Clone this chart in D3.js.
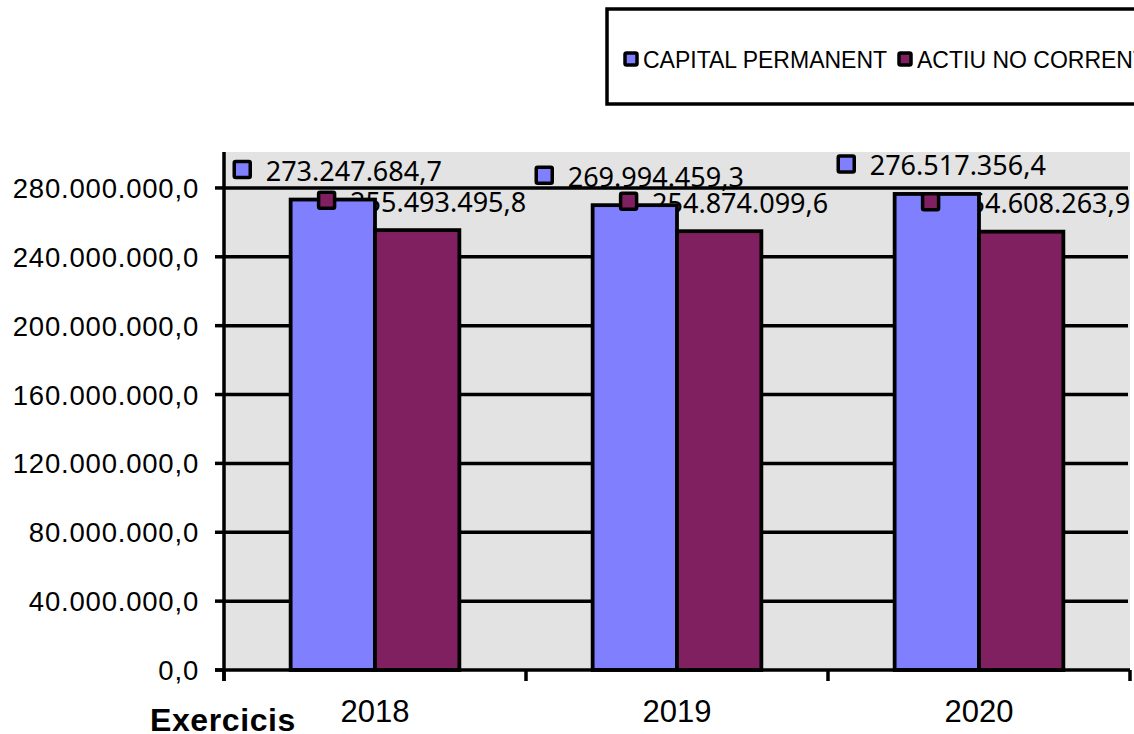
<!DOCTYPE html>
<html>
<head>
<meta charset="utf-8">
<script src="https://cdn.jsdelivr.net/npm/d3@7"></script>
<style>
  body { margin: 0; background: #fff; }
  svg { display: block; }
</style>
</head>
<body>
<script>
var years = ["2018", "2019", "2020"];
var seriesNames = ["CAPITAL PERMANENT", "ACTIU NO CORRENT"];
var capitalPermanent = [273247684.7, 269994459.3, 276517356.4];
var actiuNoCorrent = [255493495.8, 254874099.6, 254608263.9];
var yTicks = [0, 40000000, 80000000, 120000000, 160000000, 200000000, 240000000, 280000000];
var colors = ["#8080ff", "#802060"];

var w = 1134, h = 734;
var plotLeft = 224, plotRight = 1130, plotTop = 152, plotBottom = 670;

var svg = d3.select("body").append("svg")
            .attr("width", w)
            .attr("height", h);

// format 273247684.7 -> 273.247.684,7
function fmt(v) {
  var s = v.toFixed(1).split(".");
  return s[0].replace(/\B(?=(\d{3})+(?!\d))/g, ".") + "," + s[1];
}

var y = d3.scaleLinear().domain([0, 300000000]).range([plotBottom, plotTop + 1.5]);
var x0 = d3.scaleBand().domain(years).range([plotLeft, plotRight]).padding(0);
var x1 = d3.scaleBand().domain([0, 1]).range([0, x0.step()]).paddingInner(0).paddingOuter(0.79);

var data = [];
years.forEach(function(yr, i) {
  data.push({year: yr, s: 0, v: capitalPermanent[i]});
  data.push({year: yr, s: 1, v: actiuNoCorrent[i]});
});

// plot background
svg.append("rect")
   .attr("x", plotLeft).attr("y", plotTop)
   .attr("width", plotRight - plotLeft).attr("height", plotBottom - plotTop)
   .attr("fill", "#e3e3e3");

// label texts (drawn under bars, like the original)
var labelFont = "'Noto Sans', 'Open Sans', sans-serif";
var labels = svg.append("g");

// gridlines
svg.append("g").selectAll("line")
   .data(yTicks.slice(1))
   .enter().append("line")
   .attr("x1", plotLeft).attr("x2", plotRight - 2)
   .attr("y1", function(d) { return y(d); })
   .attr("y2", function(d) { return y(d); })
   .attr("stroke", "#000")
   .attr("stroke-width", 3.5);

// bars
svg.append("g").selectAll("rect")
   .data(data)
   .enter().append("rect")
   .attr("x", function(d) { return x0(d.year) + x1(d.s); })
   .attr("y", function(d) { return y(d.v); })
   .attr("width", x1.bandwidth())
   .attr("height", function(d) { return y(0) - y(d.v); })
   .attr("fill", function(d) { return colors[d.s]; })
   .attr("stroke", "#000")
   .attr("stroke-width", 3.8);

var markers = svg.append("g");

// data labels: legend key + value, centred above each bar
data.forEach(function(d) {
  var cx = x0(d.year) + x1(d.s) + x1.bandwidth() / 2 + 4.5;
  var base = y(d.v) - 18.5;
  var t = labels.append("text")
     .attr("y", base)
     .attr("font-family", labelFont)
     .attr("font-size", 27)
     .attr("fill", "#000")
     .text(fmt(d.v));
  var tw = t.node().getComputedTextLength();
  var total = 16 + 3 + 14 + tw;
  var x = cx - total / 2;
  t.attr("x", x + 33);
  markers.append("rect")
     .attr("x", x + 1.5).attr("y", base - 11.5 - 8)
     .attr("width", 16).attr("height", 16)
     .attr("rx", 1.5)
     .attr("fill", colors[d.s])
     .attr("stroke", "#000")
     .attr("stroke-width", 3.5);
});

// y axis
var axisFont = "'Liberation Sans', Arial, sans-serif";
svg.append("line")
   .attr("x1", plotLeft).attr("x2", plotLeft)
   .attr("y1", plotTop).attr("y2", plotBottom + 11)
   .attr("stroke", "#000").attr("stroke-width", 3.5);
svg.append("g").selectAll("line")
   .data(yTicks)
   .enter().append("line")
   .attr("x1", plotLeft - 9).attr("x2", plotLeft)
   .attr("y1", function(d) { return y(d); })
   .attr("y2", function(d) { return y(d); })
   .attr("stroke", "#000").attr("stroke-width", 3.5);
svg.append("g").selectAll("text")
   .data(yTicks)
   .enter().append("text")
   .attr("x", 199)
   .attr("y", function(d) { return y(d) + 10; })
   .attr("text-anchor", "end")
   .attr("font-family", axisFont)
   .attr("font-size", 27.5)
   .attr("letter-spacing", 0.8)
   .text(function(d) { return fmt(d); });

// x axis
svg.append("line")
   .attr("x1", plotLeft - 9).attr("x2", plotRight)
   .attr("y1", plotBottom).attr("y2", plotBottom)
   .attr("stroke", "#000").attr("stroke-width", 3.5);
svg.append("g").selectAll("line")
   .data(years.concat(["end"]))
   .enter().append("line")
   .attr("x1", function(d, i) { return plotLeft + i * x0.step(); })
   .attr("x2", function(d, i) { return plotLeft + i * x0.step(); })
   .attr("y1", plotBottom).attr("y2", plotBottom + 11)
   .attr("stroke", "#000").attr("stroke-width", 3.5);
svg.append("g").selectAll("text")
   .data(years)
   .enter().append("text")
   .attr("x", function(d) { return x0(d) + x0.bandwidth() / 2; })
   .attr("y", 722)
   .attr("text-anchor", "middle")
   .attr("font-family", axisFont)
   .attr("font-size", 31)
   .text(function(d) { return d; });

svg.append("text")
   .attr("x", 150).attr("y", 731)
   .attr("font-family", axisFont)
   .attr("font-size", 32)
   .attr("font-weight", "bold")
   .attr("letter-spacing", 0.6)
   .text("Exercicis");

// legend
var legend = svg.append("g");
legend.append("rect")
   .attr("x", 607).attr("y", 9)
   .attr("width", 560).attr("height", 95)
   .attr("fill", "#fff")
   .attr("stroke", "#000").attr("stroke-width", 3.5);
var lx = [625, 899];
seriesNames.forEach(function(name, i) {
  legend.append("rect")
     .attr("x", lx[i]).attr("y", 53)
     .attr("width", 12).attr("height", 12)
     .attr("rx", 1.5)
     .attr("fill", colors[i])
     .attr("stroke", "#000").attr("stroke-width", 3.5);
  legend.append("text")
     .attr("x", lx[i] + 18).attr("y", 68)
     .attr("font-family", axisFont)
     .attr("font-size", 23)
     .text(name);
});
</script>
</body>
</html>
